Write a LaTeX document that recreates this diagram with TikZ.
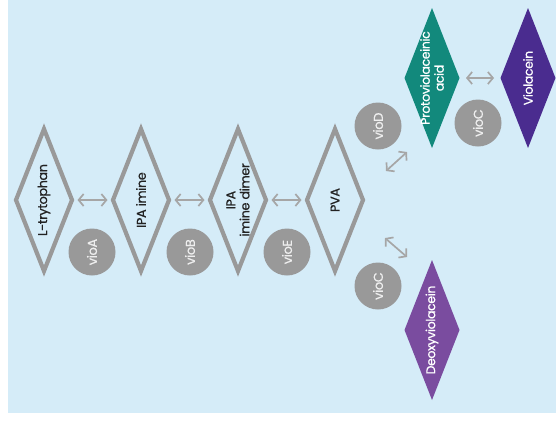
\documentclass[tikz,border=0pt]{standalone}
\usepackage{fontspec}
\setmainfont{Poppins}[LetterSpace=-3]
\newfontfamily\heavier{Poppins}[LetterSpace=-3, FakeBold=0.6]
\usetikzlibrary{shapes.geometric,arrows.meta}
\definecolor{bg}{HTML}{D5ECF8}
\definecolor{dgray}{HTML}{999999}
\definecolor{agray}{HTML}{A6A6A6}
\definecolor{tealc}{HTML}{12897C}
\definecolor{vdark}{HTML}{4A2C8F}
\definecolor{vlight}{HTML}{7A4C9F}
\definecolor{txt}{HTML}{222222}
\definecolor{ctxt}{HTML}{EEEEEE}
\begin{document}
\begin{tikzpicture}[x=1pt,y=-1pt,
  graydia/.style={draw=dgray, line width=4.2pt, diamond, inner sep=0pt, outer sep=0pt,
    minimum width=56pt, minimum height=142pt},
  filldia/.style={diamond, inner sep=0pt, outer sep=0pt, minimum width=55pt, minimum height=140pt},
  dtext/.style={rotate=90, text=txt, font=\heavier\fontsize{12.8}{14}\selectfont, align=center, inner sep=0pt},
  wtext/.style={rotate=90, text=white, font=\heavier\fontsize{12.5}{14}\selectfont, align=center, inner sep=0pt},
  enz/.style={circle, fill=dgray, minimum size=47pt, inner sep=0pt, text=ctxt,
    font=\heavier\fontsize{13}{14}\selectfont, rotate=90},
  dbl/.style={draw=agray, line width=1.7pt,
    {Straight Barb[length=5pt,width=12pt]}-{Straight Barb[length=5pt,width=12pt]},
    shorten <=5.5pt, shorten >=5.5pt},
  dbld/.style={draw=agray, line width=1.7pt,
    {Straight Barb[length=5pt,width=12pt]}-{Straight Barb[length=5pt,width=12pt]}}
]
\useasboundingbox (0,0) rectangle (556,421);
\fill[bg] (8,0) rectangle (556,413);

% gray diamonds
\node[graydia] (trp) at (44,200) {};
\node[graydia] (imine) at (141,200) {};
\node[graydia] (dimer) at (238,200) {};
\node[graydia] (pva) at (335,200) {};
\node[dtext] (trpT) at (trp.center) {L-trytophan};
\node[dtext] (imineT) at (imine.center) {IPA imine};
\node[dtext] (dimerT) at (dimer.center) {IPA\\imine dimer};
\node[dtext] (pvaT) at (pva.center) {PVA};

% coloured diamonds
\node[filldia, fill=tealc] (proto) at (432,78) {};
\node[filldia, fill=vdark] (viol) at (528,78) {};
\node[filldia, fill=vlight] (deoxy) at (432,330) {};
\node[wtext] (protoT) at (proto.center) {Protoviolaceinic\\acid};
\node[wtext] (violT) at (viol.center) {Violacein};
\node[wtext] (deoxyT) at (deoxy.center) {Deoxyviolacein};

% enzymes
\node[enz] (vioA) at (92,252) {vioA};
\node[enz] (vioB) at (190,252) {vioB};
\node[enz] (vioE) at (287,252) {vioE};
\node[enz] (vioD) at (378,126) {vioD};
\node[enz] (vioC1) at (478,123) {vioC};
\node[enz] (vioC2) at (378,286) {vioC};

% connectors
\draw[dbl] (trp.east) -- (imine.west);
\draw[dbl] (imine.east) -- (dimer.west);
\draw[dbl] (dimer.east) -- (pva.west);
\draw[dbl, shorten <=6.5pt, shorten >=6.5pt] (proto.east) -- (viol.west);
\coordinate (u1) at (386,171);
\coordinate (u2) at (407,152);
\coordinate (l1) at (385,238);
\coordinate (l2) at (407,257);
\draw[dbld] (u1) -- (u2);
\draw[dbld] (l1) -- (l2);
\end{tikzpicture}
\end{document}
